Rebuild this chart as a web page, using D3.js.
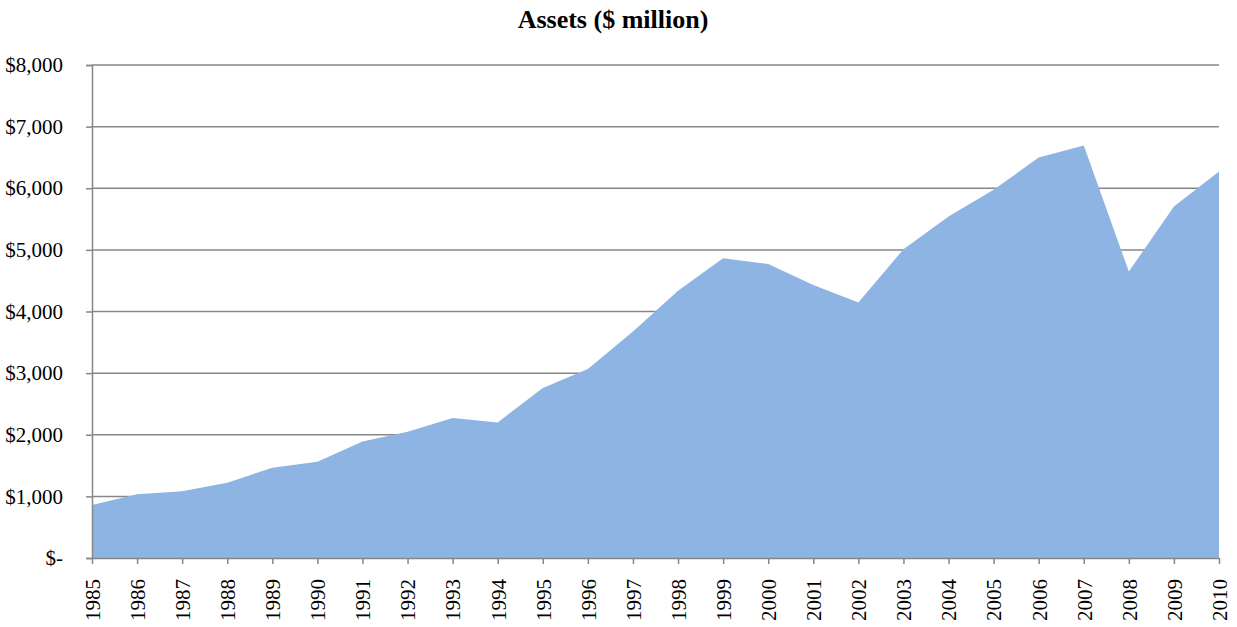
<!DOCTYPE html>
<html><head><meta charset="utf-8">
<script src="https://cdn.jsdelivr.net/npm/d3@7"></script>
<style>body{margin:0;background:#fff}svg{display:block}</style>
</head><body>
<script>
const years = ["1985","1986","1987","1988","1989","1990","1991","1992","1993","1994","1995","1996","1997","1998","1999","2000","2001","2002","2003","2004","2005","2006","2007","2008","2009","2010"];
const assets = [860,1035,1085,1220,1465,1560,1890,2050,2270,2200,2757,3065,3675,4335,4865,4770,4430,4146,5010,5540,5975,6497,6692,4648,5703,6270];
const yTicks = [0,1000,2000,3000,4000,5000,6000,7000,8000];
const title = "Assets ($ million)";

const W = 1237, H = 627;
const m = {left:92, right:18, top:65, bottom:69};
const svg = d3.select("body").append("svg").attr("width",W).attr("height",H);
const x = d3.scalePoint().domain(years).range([m.left, W - m.right]);
const y = d3.scaleLinear().domain([0,8000]).range([H - m.bottom, m.top]);
const font = "'Liberation Serif','Times New Roman',serif";
const grey = "#878787";

// gridlines
svg.append("g").selectAll("line").data(yTicks.filter(d=>d>0)).join("line")
  .attr("x1", m.left).attr("x2", W - m.right)
  .attr("y1", d=>y(d)).attr("y2", d=>y(d))
  .attr("stroke", grey).attr("stroke-width", 1.5);

// area
const area = d3.area().x((d,i)=>x(years[i])).y0(y(0)).y1(d=>y(d));
svg.append("path").datum(assets).attr("d", area).attr("fill", "#8EB4E3");

// y axis
const fmt = d => d === 0 ? "$-" : "$" + d3.format(",")(d);
const ya = svg.append("g").attr("transform", `translate(${m.left},0)`)
  .call(d3.axisLeft(y).tickValues(yTicks).tickFormat(fmt).tickSize(6).tickPadding(23));
ya.select(".domain").attr("stroke", grey).attr("stroke-width", 1.5);
ya.selectAll(".tick line").attr("stroke", grey).attr("stroke-width", 1.5);
ya.selectAll("text").attr("font-family", font).attr("font-size", 21).attr("fill", "#000");

// x axis
const xa = svg.append("g").attr("transform", `translate(0,${y(0)})`)
  .call(d3.axisBottom(x).tickSize(6).tickSizeOuter(0));
xa.select(".domain").attr("stroke", grey).attr("stroke-width", 1.5);
xa.selectAll(".tick line").attr("stroke", grey).attr("stroke-width", 1.5);
xa.selectAll("text").attr("font-family", font).attr("font-size", 21).attr("fill", "#000")
  .attr("transform", "rotate(-90)").attr("text-anchor", "end")
  .attr("x", -21).attr("y", 0).attr("dy", "0.35em");

// title
svg.append("text").attr("x", 613).attr("y", 28).attr("text-anchor", "middle")
  .attr("font-family", font).attr("font-weight", "bold").attr("font-size", 26)
  .text(title);
</script>
</body></html>
